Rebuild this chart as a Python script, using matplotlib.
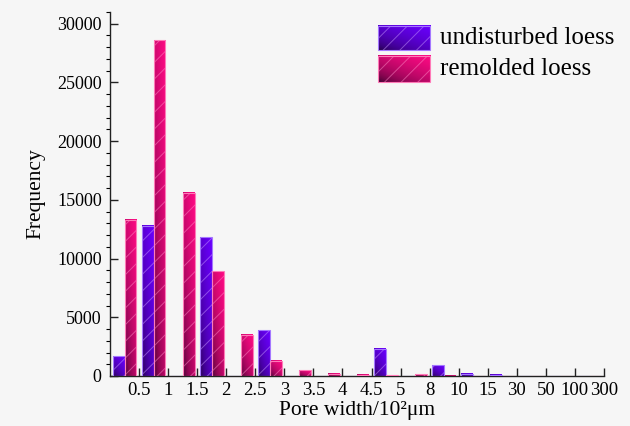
import numpy as np
import matplotlib.pyplot as plt
from matplotlib.colors import to_rgb
from matplotlib.ticker import MultipleLocator

plt.rcParams['font.family'] = ['Liberation Serif', 'DejaVu Serif']
plt.rcParams['hatch.linewidth'] = 0.7

# pore width bins (upper edge labels, x 10^2 um)
tick_labels = ["0.5", "1", "1.5", "2", "2.5", "3", "3.5", "4", "4.5", "5",
               "8", "10", "15", "30", "50", "100", "300"]
undisturbed = [1700, 12800, 0, 11800, 0, 3900, 0, 0, 0, 2300,
               0, 900, 180, 100, 0, 0, 0]
remolded = [13300, 28600, 15600, 8900, 3500, 1300, 500, 200, 120, 60,
            150, 30, 0, 0, 0, 0, 0]
series_names = ["undisturbed loess", "remolded loess"]

BG = "#f6f6f6"
DARK = "#14001e"
PURPLE = "#6a00ff"
PINK = "#ff0a84"
HATCH = [(0.78, 0.6, 1.0, 0.5), (1.0, 0.55, 0.78, 0.5)]
EDGE = ["#a477ff", "#ff7ab8"]


def make_grad(dark, bright, ny=64, nx=32):
    yy, xx = np.mgrid[0:1:ny * 1j, 0:1:nx * 1j]
    t = np.clip(0.45 * xx + 0.55 * yy, 0, 1) ** 0.4
    d = np.array(to_rgb(dark))
    b = np.array(to_rgb(bright))
    return d * (1 - t[..., None]) + b * t[..., None]


def gradient_bars(ax, xs, heights, width, bright, hatch_col, edge_col):
    img = make_grad(DARK, bright)
    bars = ax.bar(xs, heights, width, facecolor="none", edgecolor=edge_col,
                  linewidth=0.8, zorder=4)
    for b in bars:
        h = b.get_height()
        if h <= 0:
            continue
        x0 = b.get_x()
        ax.imshow(img, extent=[x0, x0 + b.get_width(), 0, h], origin="lower",
                  aspect="auto", interpolation="bilinear", zorder=2)
    ax.bar(xs, heights, width, facecolor="none", edgecolor=hatch_col,
           linewidth=0, hatch="//", zorder=3)


fig = plt.figure(figsize=(6.3, 4.26), dpi=100, facecolor=BG)
ax = fig.add_axes([0.1746, 0.1174, 0.7841, 0.8544], facecolor=BG)

n = len(tick_labels)
centers = np.arange(n) + 0.5
w = 0.41
gradient_bars(ax, centers - w / 2, undisturbed, w, PURPLE, HATCH[0], EDGE[0])
gradient_bars(ax, centers + w / 2, remolded, w, PINK, HATCH[1], EDGE[1])

ax.set_xticks(np.arange(1, n + 1))
ax.set_xticklabels(tick_labels)
ax.set_yticks(np.arange(0, 30001, 5000))
ax.yaxis.set_minor_locator(MultipleLocator(1000))
ax.tick_params(axis="both", which="major", direction="in", length=6,
               width=1, color="#222222")
ax.tick_params(axis="x", labelsize=13.5, pad=4)
ax.tick_params(axis="y", labelsize=13, pad=6)
ax.tick_params(axis="y", which="minor", direction="out", length=3, width=0.8)
for s in ["top", "right"]:
    ax.spines[s].set_visible(False)
for s in ["left", "bottom"]:
    ax.spines[s].set_linewidth(1.0)
    ax.spines[s].set_color("#222222")

ax.set_xlabel("Pore width/10\u00b2\u03bcm", fontsize=15.5, labelpad=2)
ax.set_ylabel("Frequency", fontsize=15.5, labelpad=8)

# legend drawn by hand so the keys keep the gradient fill
leg_rows = [(0.8956, 0.9624), (0.8085, 0.8800)]
for name, bright, hc, ec, (y0, y1) in zip(series_names, [PURPLE, PINK],
                                          HATCH, EDGE, leg_rows):
    ax.imshow(make_grad(DARK, bright, 32, 64), extent=[0.5425, 0.648, y0, y1],
              transform=ax.transAxes, origin="lower", aspect="auto",
              interpolation="bilinear", zorder=5)
    ax.add_patch(plt.Rectangle((0.5425, y0), 0.648 - 0.5425, y1 - y0,
                               transform=ax.transAxes, facecolor="none",
                               edgecolor=hc, hatch="//", linewidth=0, zorder=6))
    ax.add_patch(plt.Rectangle((0.5425, y0), 0.648 - 0.5425, y1 - y0,
                               transform=ax.transAxes, facecolor="none",
                               edgecolor=ec, linewidth=0.8, zorder=7))
    ax.text(0.668, (y0 + y1) / 2, name, transform=ax.transAxes, fontsize=18,
            va="center", ha="left")

ax.set_xlim(0, n)
ax.set_ylim(0, 31000)

fig.savefig("out.png", dpi=100, facecolor=BG)
